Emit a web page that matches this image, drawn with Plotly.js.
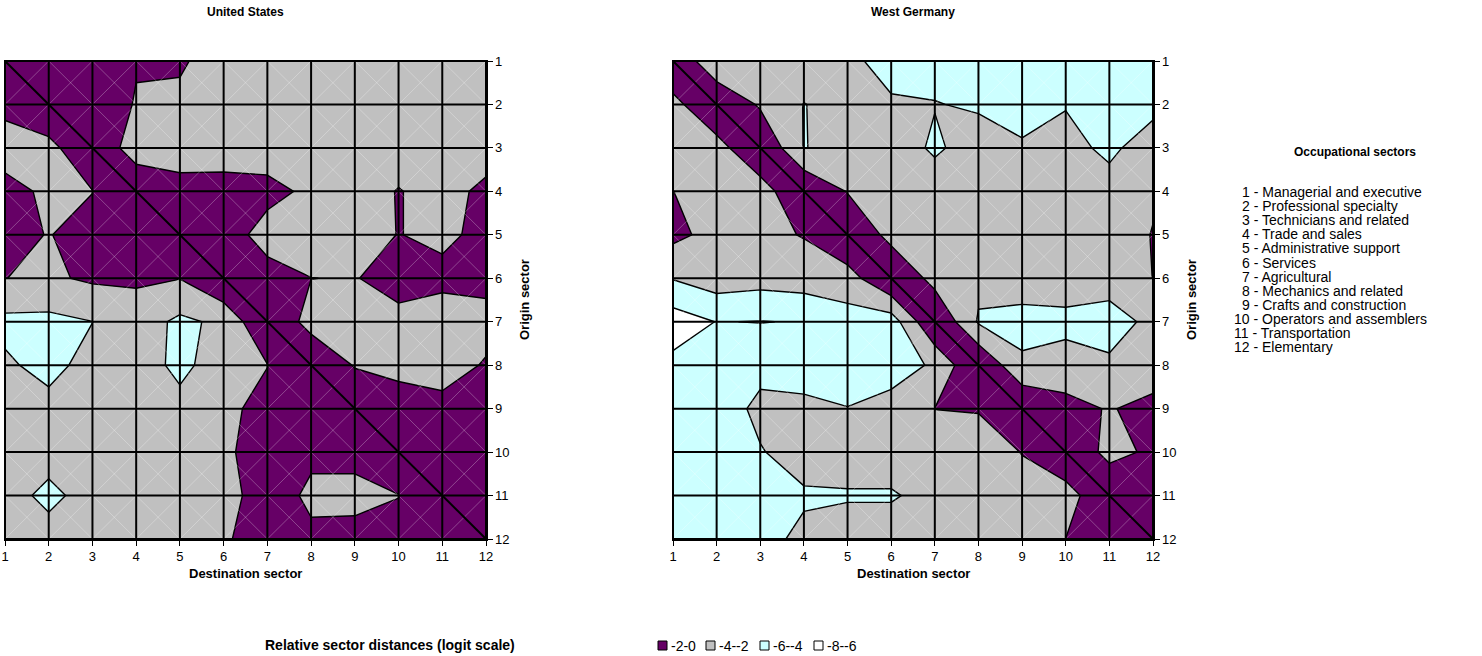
<!DOCTYPE html>
<html><head><meta charset="utf-8">
<script src="https://cdn.plot.ly/plotly-3.0.1.min.js"></script>
<style>html,body{margin:0;padding:0;background:#fff}#chart{width:1482px;height:656px}</style>
</head><body><div id="chart"></div>
<script>
// ---------- data ----------
const sectors = [1,2,3,4,5,6,7,8,9,10,11,12];
const sectorNames = ['Managerial and executive','Professional specialty','Technicians and related',
  'Trade and sales','Administrative support','Services','Agricultural','Mechanics and related',
  'Crafts and construction','Operators and assemblers','Transportation','Elementary'];
const levelLabels = ['-2-0','-4--2','-6--4','-8--6'];
const levelColors = ['#660066','#C0C0C0','#CCFFFF','#FFFFFF'];
const panelTitles = ['United States','West Germany'];

// rows = origin sector 1..12, columns = destination sector 1..12
const usDistances = [
  [0, -1, -1, -1.9, -1.7, -3.1, -3, -3, -3, -3, -3, -3],
  [-1.3, 0, -1, -2.1, -2.5, -3, -3, -3, -3, -3, -3, -3],
  [-3.2, -2.7, 0, -3.2, -2.8, -3, -3, -3, -3, -3, -3, -3],
  [-1.1, -2.5, -2.05, 0, -1.4, -1.2, -1.4, -2.4, -3, -1.9, -2.8, -1.5],
  [-1.2, -2.1, -1, -0.8, 0, -1, -2.8, -3, -2.8, -1.95, -2.4, -1.5],
  [-1.98, -2.3, -1.7, -1.7, -1.95, 0, -1.2, -1.98, -2.1, -1.2, -1.5, -1.3],
  [-4.5, -4.5, -4.02, -3, -4.4, -3.6, 0, -2.8, -2.8, -2.6, -3, -2.8],
  [-3.7, -4.6, -3.3, -3, -4.5, -3, -2.05, 0, -2.15, -2.6, -3, -1.8],
  [-3, -3.4, -3, -3, -3.4, -2.6, -1.2, -1, 0, -1, -1.3, -1.2],
  [-3, -3.2, -3, -3, -3, -2.3, -1.2, -1.7, -1.3, 0, -1.5, -1.2],
  [-3.2, -4.5, -3.2, -3, -3, -2.6, -1.2, -2.3, -2.7, -2.05, 0, -1],
  [-3, -3.2, -3, -3, -3, -2.2, -1.2, -1.7, -1.2, -1.2, -1, 0]
];
const wgDistances = [
  [0, -3.8, -3, -3, -3.75, -4.4, -4.5, -4.5, -4.5, -4.5, -4.5, -4.5],
  [-2.67, 0, -2.27, -4.05, -3.3, -3.87, -3.95, -4.16, -4.5, -4.05, -4.6, -4.28],
  [-3.2, -2.85, 0, -4.08, -3.2, -3.3, -4.2, -3.4, -3.85, -3.7, -4.2, -3.5],
  [-1.98, -3, -3.03, 0, -2.1, -3.2, -3.3, -3.2, -3.3, -3.3, -3.63, -2.3],
  [-1.5, -2.66, -2.5, -1.9, 0, -2.67, -3.2, -3.3, -3.3, -3.3, -3.3, -1.9],
  [-3.9, -2.95, -3.25, -3.0, -2.9, 0, -2.7, -3.5, -3.1, -3.0, -3.1, -1.98],
  [-7, -5.95, -6.05, -5.9, -4.8, -5, 0, -4.2, -4.6, -4.5, -4.85, -3.5],
  [-5.5, -5.2, -4.5, -5, -5, -5, -3.7, 0, -3.7, -3.28, -3.67, -3.3],
  [-5, -4.9, -3.6, -3.5, -3.95, -3.2, -1.98, -1.9, 0, -1.3, -2.15, -1.3],
  [-5, -4.6, -4.1, -3.3, -3.2, -3.2, -3, -2.8, -1.95, 0, -2.7, -1.6],
  [-5, -5, -4.6, -4.2, -4.15, -4.15, -3.5, -3, -2.6, -3.0, 0, -1.5],
  [-5, -5, -4.5, -3.65, -3.2, -3.2, -3.1, -3, -2.7, -1.98, -1.2, 0]
];

// ---------- layout helpers ----------
const W = 1482, H = 656;
const px = v => v / W;
const py = v => 1 - v / H;
const FONT = 'Arial, "Liberation Sans", sans-serif';

const discreteScale = [
  [0, levelColors[3]], [0.25, levelColors[3]],
  [0.25, levelColors[2]], [0.5, levelColors[2]],
  [0.5, levelColors[1]], [0.75, levelColors[1]],
  [0.75, levelColors[0]], [1, levelColors[0]]
];

function contourTrace(z, xa, ya) {
  return {
    type: 'contour', x: sectors, y: sectors, z: z, xaxis: xa, yaxis: ya,
    zmin: -8, zmax: 0, autocontour: false,
    contours: {start: -6, end: -2, size: 2, coloring: 'fill', showlines: true},
    line: {color: '#000', width: 1.4, smoothing: 0},
    colorscale: discreteScale, showscale: false, hoverinfo: 'skip'
  };
}
function wireTrace(xa, ya) {
  const xs = [], ys = [];
  for (let i = 0; i < sectors.length - 1; i++) {
    for (let j = 0; j < sectors.length - 1; j++) {
      xs.push(sectors[j], sectors[j+1], null, sectors[j+1], sectors[j], null);
      ys.push(sectors[i], sectors[i+1], null, sectors[i], sectors[i+1], null);
    }
  }
  return {type: 'scatter', mode: 'lines', x: xs, y: ys, xaxis: xa, yaxis: ya,
    line: {color: 'rgba(255,255,255,0.35)', width: 0.8}, hoverinfo: 'skip', showlegend: false};
}

const first = sectors[0], last = sectors[sectors.length - 1];
const shapes = [];
['', '2'].forEach(s => {
  const xr = 'x' + s, yr = 'y' + s;
  sectors.forEach(k => {
    shapes.push({type: 'line', xref: xr, yref: yr, x0: k, x1: k, y0: first, y1: last, line: {color: '#000', width: 2}});
    shapes.push({type: 'line', xref: xr, yref: yr, y0: k, y1: k, x0: first, x1: last, line: {color: '#000', width: 2}});
  });
  shapes.push({type: 'line', xref: xr, yref: yr, x0: first, y0: first, x1: last, y1: last, line: {color: '#000', width: 2}});
});

const axisCommon = {
  range: [first, last], tickvals: sectors, ticktext: sectors.map(String),
  ticks: 'outside', ticklen: 5, tickwidth: 1, tickcolor: '#000',
  showgrid: false, zeroline: false, showline: true, linecolor: '#000', linewidth: 1.5, mirror: true,
  tickfont: {family: FONT, size: 13, color: '#000'}, fixedrange: true
};
const panels = [[5, 486], [673, 1153]];
const yDom = [py(539), py(61)];

const annotations = [];
const ann = (text, x, y, opts) => annotations.push(Object.assign({
  text: text, x: px(x), y: py(y), xref: 'paper', yref: 'paper', showarrow: false,
  font: {family: FONT, size: 13, color: '#000'}, xanchor: 'center', yanchor: 'middle'
}, opts || {}));

panels.forEach((p, k) => {
  const cx = (p[0] + p[1]) / 2;
  ann('<b>' + panelTitles[k] + '</b>', cx, 12, {font: {family: FONT, size: 12, color: '#000'}});
  ann('<b>Destination sector</b>', cx, 573, {font: {family: FONT, size: 13, color: '#000'}});
  ann('<b>Origin sector</b>', p[1] + 38, 300, {textangle: -90, font: {family: FONT, size: 13, color: '#000'}});
});

ann('<b>Occupational sectors</b>', 1355, 152, {font: {family: FONT, size: 12, color: '#000'}});
sectorNames.forEach((n, i) => {
  ann(sectors[i] + ' - ' + n, 1240 - (sectors[i] >= 10 ? 8 : 0), 192 + i * 14.1,
      {xanchor: 'left', font: {family: FONT, size: 14, color: '#000'}});
});

ann('<b>Relative sector distances (logit scale)</b>', 390, 645, {font: {family: FONT, size: 14, color: '#000'}});
let lx = 658;
levelLabels.forEach((lab, i) => {
  shapes.push({type: 'rect', xref: 'paper', yref: 'paper', x0: px(lx), x1: px(lx + 9), y0: py(650), y1: py(641),
    fillcolor: levelColors[i], line: {color: '#000', width: 1}});
  ann(lab, lx + 11, 645.5, {xanchor: 'left', font: {family: FONT, size: 14, color: '#000'}});
  lx += [48, 54, 54][i] || 0;
});

const layout = {
  width: W, height: H, margin: {l: 0, r: 0, t: 0, b: 0},
  paper_bgcolor: '#fff', plot_bgcolor: '#fff', showlegend: false,
  xaxis: Object.assign({}, axisCommon, {domain: [px(panels[0][0]), px(panels[0][1])], anchor: 'y'}),
  yaxis: Object.assign({}, axisCommon, {domain: yDom, anchor: 'x', side: 'right', range: [last, first]}),
  xaxis2: Object.assign({}, axisCommon, {domain: [px(panels[1][0]), px(panels[1][1])], anchor: 'y2'}),
  yaxis2: Object.assign({}, axisCommon, {domain: yDom, anchor: 'x2', side: 'right', range: [last, first]}),
  shapes: shapes, annotations: annotations
};

const data = [
  contourTrace(usDistances, 'x', 'y'), wireTrace('x', 'y'),
  contourTrace(wgDistances, 'x2', 'y2'), wireTrace('x2', 'y2')
];
Plotly.newPlot('chart', data, layout, {staticPlot: true, displayModeBar: false});
</script></body></html>
